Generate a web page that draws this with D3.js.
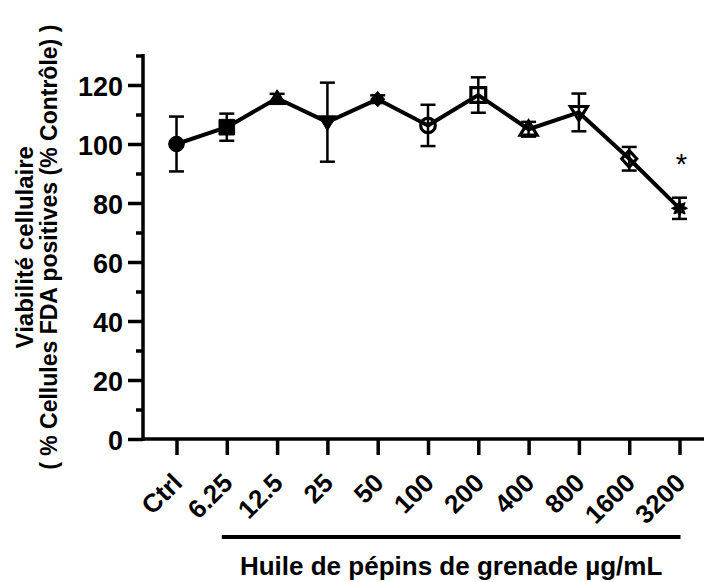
<!DOCTYPE html>
<html>
<head>
<meta charset="utf-8">
<script src="https://cdn.jsdelivr.net/npm/d3@7"></script>
<style>
  body { margin: 0; background: #fff; }
  svg { display: block; }
  text { font-family: "Liberation Sans", Arial, Helvetica, sans-serif; fill: #000; }
</style>
</head>
<body>
<svg id="chart" width="704" height="582"></svg>
<script>
// Cell viability (% FDA-positive cells, relative to control) per oil concentration
const categories = ["Ctrl", "6.25", "12.5", "25", "50", "100", "200", "400", "800", "1600", "3200"];
const means      = [100, 105.7, 115.5, 107.4, 115.2, 106.3, 116.6, 105.0, 110.7, 95.0, 78.2];
const errors     = [9.3, 4.6, 1.5, 13.4, 1.3, 7.0, 6.0, 2.5, 6.4, 4.0, 3.6];
const markerShapes = ["circle", "square", "triangle", "triangleDown", "diamond",
                      "circle", "square", "triangle", "triangleDown", "diamond", "star"];
const markerFilled = [true, true, true, true, true, false, false, false, false, false, true];
const significant = ["3200"];
const yMajorTicks = [0, 20, 40, 60, 80, 100, 120];
const yMinorTicks = [10, 30, 50, 70, 90, 110, 130];
const concentrationGroup = ["6.25", "3200"];   // first and last dose under the bracket

const svg = d3.select("#chart");

const x = d3.scalePoint().domain(categories).range([176.5, 679.5]);
const y = d3.scaleLinear().domain([0, 130]).range([439, 55.5]);

const axisLeftX = 143;
const axisRightX = 704;

// ---- axes ----
const yAxisMajor = d3.axisLeft(y).tickValues(yMajorTicks).tickSize(15).tickPadding(5).tickFormat(d3.format("d"));
const yAxisMinor = d3.axisLeft(y).tickValues(yMinorTicks).tickSize(7).tickFormat("");

const gy = svg.append("g").attr("transform", `translate(${axisLeftX},0)`);
gy.call(yAxisMajor);
gy.append("g").call(yAxisMinor);
gy.selectAll(".domain").remove();
gy.selectAll("line").attr("stroke", "#000").attr("stroke-width", 3.5);
gy.selectAll("text")
  .attr("font-size", 27).attr("font-weight", "bold").attr("dy", "0.40em");

svg.append("line")
  .attr("x1", axisLeftX).attr("x2", axisLeftX)
  .attr("y1", y(130) - 1.5).attr("y2", y(0) + 1.75)
  .attr("stroke", "#000").attr("stroke-width", 3.5);

const xAxis = d3.axisBottom(x).tickSize(16).tickFormat("");
const gx = svg.append("g").attr("transform", `translate(0,${y(0)})`).call(xAxis);
gx.selectAll(".domain").remove();
gx.selectAll("line").attr("stroke", "#000").attr("stroke-width", 3.5);

svg.append("line")
  .attr("x1", axisLeftX).attr("x2", axisRightX)
  .attr("y1", y(0)).attr("y2", y(0))
  .attr("stroke", "#000").attr("stroke-width", 3.5);

// rotated category labels
svg.append("g").selectAll("text")
  .data(categories)
  .join("text")
  .attr("transform", d => `translate(${x(d) + 1},478) rotate(-45)`)
  .attr("text-anchor", "end")
  .attr("dy", "0.35em")
  .attr("font-size", 26)
  .attr("font-weight", "bold")
  .text(d => d);

// bracket under the concentration labels
svg.append("line")
  .attr("x1", x(concentrationGroup[0]) - 5).attr("x2", x(concentrationGroup[1]) + 1)
  .attr("y1", 537).attr("y2", 537)
  .attr("stroke", "#000").attr("stroke-width", 4);

svg.append("text")
  .attr("x", (x(concentrationGroup[0]) - 5 + x(concentrationGroup[1]) + 1) / 2)
  .attr("y", 575)
  .attr("text-anchor", "middle")
  .attr("font-size", 26)
  .attr("font-weight", "bold")
  .text("Huile de pépins de grenade µg/mL");

// y axis title (two lines)
const yTitle = svg.append("g").attr("transform", `translate(0,${y(65)}) rotate(-90)`);
yTitle.append("text")
  .attr("x", 0).attr("y", 33)
  .attr("text-anchor", "middle")
  .attr("font-size", 24).attr("font-weight", "bold")
  .text("Viabilité cellulaire");
yTitle.append("text")
  .attr("x", 0).attr("y", 57)
  .attr("text-anchor", "middle")
  .attr("font-size", 23).attr("font-weight", "bold")
  .text("( % Cellules FDA positives (% Contrôle) )");

// ---- data ----
const rows = categories.map((c, i) => ({
  cat: c, mean: means[i], err: errors[i], shape: markerShapes[i], filled: markerFilled[i]
}));

// error bars
const eb = svg.append("g").attr("stroke", "#000").attr("stroke-width", 2.5);
rows.forEach(r => {
  const cx = x(r.cat);
  eb.append("line").attr("x1", cx).attr("x2", cx)
    .attr("y1", y(r.mean + r.err)).attr("y2", y(r.mean - r.err));
  [r.mean + r.err, r.mean - r.err].forEach(v => {
    eb.append("line").attr("x1", cx - 7.5).attr("x2", cx + 7.5)
      .attr("y1", y(v)).attr("y2", y(v));
  });
});

// connecting line
const line = d3.line().x(d => x(d.cat)).y(d => y(d.mean));
svg.append("path")
  .datum(rows)
  .attr("d", line)
  .attr("fill", "none")
  .attr("stroke", "#000")
  .attr("stroke-width", 4)
  .attr("stroke-linejoin", "round");

// marker outlines, in local symbol units
function markerPath(shape, filled) {
  const p = d3.path();
  if (shape === "circle") {
    const r = filled ? 7.8 : 7.3;
    p.moveTo(r, 0); p.arc(0, 0, r, 0, 2 * Math.PI); p.closePath();
  } else if (shape === "square") {
    const h = filled ? 7.8 : 7.4;
    p.rect(-h, -h, 2 * h, 2 * h);
  } else if (shape === "triangle") {
    const w = filled ? 9 : 8.5;
    p.moveTo(0, -w * 0.95); p.lineTo(w, w * 0.7); p.lineTo(-w, w * 0.7); p.closePath();
  } else if (shape === "triangleDown") {
    const w = filled ? 9 : 8.5;
    p.moveTo(0, w * 0.95); p.lineTo(w, -w * 0.7); p.lineTo(-w, -w * 0.7); p.closePath();
  } else if (shape === "diamond") {
    const w = filled ? 7 : 7.5;
    p.moveTo(0, -w * 1.1); p.lineTo(w, 0); p.lineTo(0, w * 1.1); p.lineTo(-w, 0); p.closePath();
  } else if (shape === "star") {
    const spikes = 8, ro = 8, ri = 4.6;
    for (let k = 0; k < spikes * 2; k++) {
      const a = Math.PI * k / spikes - Math.PI / 2;
      const rr = k % 2 === 0 ? ro : ri;
      const px = rr * Math.cos(a), py = rr * Math.sin(a);
      if (k === 0) p.moveTo(px, py); else p.lineTo(px, py);
    }
    p.closePath();
  }
  return p.toString();
}

svg.append("g").selectAll("path")
  .data(rows)
  .join("path")
  .attr("transform", d => `translate(${x(d.cat)},${y(d.mean)})`)
  .attr("d", d => markerPath(d.shape, d.filled))
  .attr("fill", d => d.filled ? "#000" : "none")
  .attr("stroke", "#000")
  .attr("stroke-width", d => d.filled ? 1 : 3.2)
  .attr("stroke-linejoin", "miter");

// significance marks
svg.append("g").selectAll("text")
  .data(rows.filter(r => significant.includes(r.cat)))
  .join("text")
  .attr("x", d => x(d.cat) + 2)
  .attr("y", d => y(d.mean + d.err) - 24)
  .attr("text-anchor", "middle")
  .attr("font-size", 29)
  .text("*");
</script>
</body>
</html>
